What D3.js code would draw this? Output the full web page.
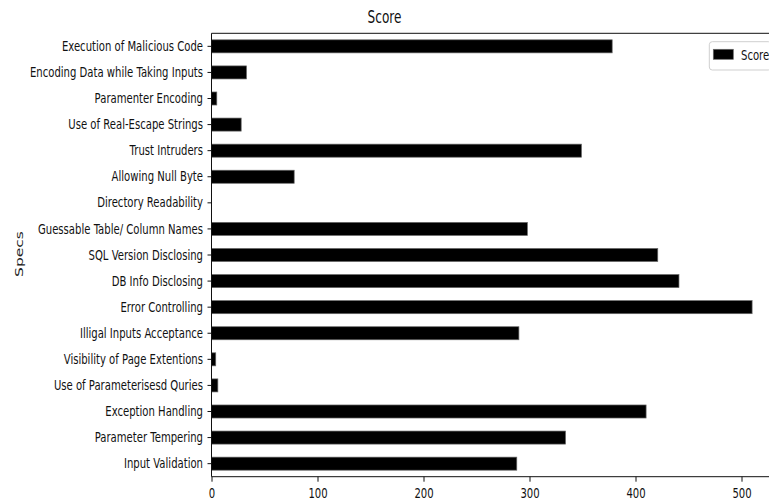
<!DOCTYPE html>
<html>
<head>
<meta charset="utf-8">
<script src="https://cdn.jsdelivr.net/npm/d3@7"></script>
<style>
  html, body { margin: 0; padding: 0; background: #fff; }
  svg { display: block; font-family: "DejaVu Sans", sans-serif; }
</style>
</head>
<body>
<svg id="chart" width="769" height="501"></svg>
<script>
// Categories, listed from the top bar down
const specs = [
  "Execution of Malicious Code",
  "Encoding Data while Taking Inputs",
  "Paramenter Encoding",
  "Use of Real-Escape Strings",
  "Trust Intruders",
  "Allowing Null Byte",
  "Directory Readability",
  "Guessable Table/ Column Names",
  "SQL Version Disclosing",
  "DB Info Disclosing",
  "Error Controlling",
  "Illigal Inputs Acceptance",
  "Visibility of Page Extentions",
  "Use of Parameterisesd Quries",
  "Exception Handling",
  "Parameter Tempering",
  "Input Validation"
];
const scores = [378, 33, 5, 28, 349, 78, 0, 298, 421, 441, 510, 290, 4, 6, 410, 334, 288];
const xTicks = [0, 100, 200, 300, 400, 500];
const xMax = 535.5;
const titleText = "Score";
const yLabel = "Specs";
const legendLabel = "Score";

const svg = d3.select("#chart");
const SX = 0.72; // narrow glyph width

const plotLeft = 211.5, plotTop = 33.3, plotBottom = 476.7;
const plotRight = plotLeft + xMax * 1.06;

const x = d3.scaleLinear().domain([0, xMax]).range([plotLeft, plotRight]);
const y = d3.scaleBand().domain(specs).range([plotTop, plotBottom])
  .paddingInner(0.5).paddingOuter(0.25);

const data = specs.map((s, i) => ({ spec: s, score: scores[i] }));

// bars
svg.append("g").selectAll("rect").data(data).join("rect")
  .attr("x", x(0))
  .attr("y", d => y(d.spec))
  .attr("width", d => x(d.score) - x(0))
  .attr("height", y.bandwidth())
  .attr("fill", "#000")
  .attr("stroke", d => d.score > 0 ? "#666" : "none")
  .attr("stroke-width", 0.7);

// axes frame
const frame = svg.append("g").attr("fill", "none").attr("stroke", "#111").attr("stroke-width", 1);
frame.append("line").attr("x1", plotLeft).attr("x2", plotLeft).attr("y1", plotTop).attr("y2", plotBottom);
frame.append("line").attr("x1", plotLeft).attr("x2", plotRight).attr("y1", plotTop).attr("y2", plotTop);
frame.append("line").attr("x1", plotLeft).attr("x2", plotRight).attr("y1", plotBottom).attr("y2", plotBottom);
frame.append("line").attr("x1", plotRight).attr("x2", plotRight).attr("y1", plotTop).attr("y2", plotBottom);

// y axis
const yAxis = svg.append("g")
  .attr("transform", `translate(${plotLeft},0)`)
  .call(d3.axisLeft(y).tickSize(4).tickPadding(4));
yAxis.select(".domain").remove();
yAxis.selectAll(".tick line").attr("stroke", "#111");
yAxis.selectAll(".tick text")
  .attr("x", null).attr("dy", null)
  .attr("font-size", 14).attr("fill", "#111")
  .attr("font-family", "DejaVu Sans, sans-serif")
  .attr("text-anchor", "end")
  .attr("dominant-baseline", "central")
  .attr("transform", `translate(-8.5,0) scale(${SX},1)`);

// x axis
const xAxis = svg.append("g")
  .attr("transform", `translate(0,${plotBottom})`)
  .call(d3.axisBottom(x).tickValues(xTicks).tickSize(5).tickFormat(d3.format("d")));
xAxis.select(".domain").remove();
xAxis.selectAll(".tick line").attr("stroke", "#111");
xAxis.selectAll(".tick text")
  .attr("y", null).attr("dy", null)
  .attr("font-size", 14).attr("fill", "#111")
  .attr("font-family", "DejaVu Sans, sans-serif")
  .attr("text-anchor", "middle")
  .attr("transform", `translate(0,21.5) scale(${SX},1)`);

// title
svg.append("text")
  .attr("transform", `translate(384.5,23) scale(${SX},1)`)
  .attr("text-anchor", "middle")
  .attr("font-size", 16.8).attr("fill", "#111")
  .text(titleText);

// y label
svg.append("text")
  .attr("transform", `translate(23,254) rotate(-90) scale(1,${SX})`)
  .attr("text-anchor", "middle")
  .attr("font-size", 15.5).attr("fill", "#222")
  .text(yLabel);

// legend
const lg = svg.append("g");
lg.append("rect")
  .attr("x", 709.3).attr("y", 41.7).attr("width", 62).attr("height", 28.3)
  .attr("rx", 3).attr("fill", "#fff").attr("stroke", "#cfcfcf").attr("stroke-width", 1);
lg.append("rect")
  .attr("x", 713.3).attr("y", 49.3).attr("width", 20).attr("height", 10)
  .attr("fill", "#000").attr("stroke", "#666").attr("stroke-width", 0.7);
lg.append("text")
  .attr("transform", `translate(741,59.5) scale(${SX},1)`)
  .attr("font-size", 14).attr("fill", "#111")
  .text(legendLabel);
</script>
</body>
</html>
